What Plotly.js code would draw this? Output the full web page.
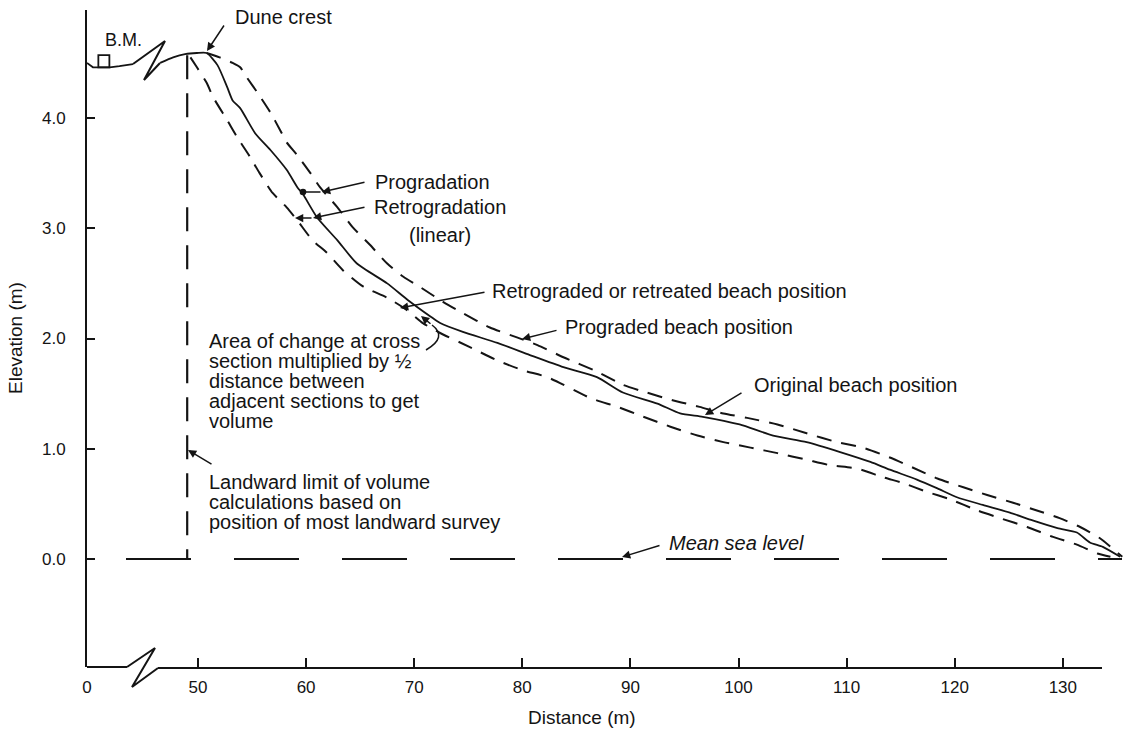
<!DOCTYPE html>
<html>
<head>
<meta charset="utf-8">
<script src="https://cdn.plot.ly/plotly-3.0.1.min.js"></script>
<style>html,body{margin:0;padding:0;background:#fff;}#chart{width:1131px;height:737px;}</style>
</head>
<body>
<div id="chart"></div>
<script>
// ---------- data (distance in m, elevation in m) ----------
// landward part of the survey (left of the axis break), with bench mark
const distLandward = [0, 0.55, 1.2, 2.1, 3.0, 4.25];
const elevLandward = [4.50, 4.46, 4.46, 4.46, 4.47, 4.49];

// original beach position (solid)
const distOriginal = [46.5,47.7,48.8,49.9,50.8,51.8,52.7,53.2,53.9,55.3,56.7,58.2,59.2,59.7,61.0,62.9,64.7,67.5,69.4,71.5,72.4,74.5,77.7,80.7,83.8,86.9,89.3,92.5,94.6,96.7,100.1,103.2,106.3,109.4,112.2,114.0,116.5,118.4,120.2,122.6,125.1,127.2,129.5,131.3,132.5,133.7,135.3];
const elevOriginal = [4.50,4.55,4.58,4.59,4.59,4.48,4.28,4.16,4.09,3.86,3.71,3.53,3.37,3.31,3.10,2.89,2.68,2.50,2.35,2.20,2.14,2.06,1.96,1.85,1.74,1.65,1.51,1.41,1.32,1.29,1.22,1.12,1.06,0.97,0.88,0.81,0.72,0.64,0.56,0.49,0.42,0.35,0.28,0.24,0.15,0.11,0.02];

// prograded beach position (dashed, seaward)
const distPrograded = [50.8,52.0,53.2,53.9,54.5,55.5,56.7,57.6,58.2,59.2,60.4,61.3,62.9,64.3,65.9,67.5,69.0,70.5,72.7,74.5,77.0,79.5,81.4,83.8,86.9,89.3,91.5,93.9,96.4,98.6,100.8,103.6,106.3,109.1,111.5,114.0,116.1,118.4,120.8,123.0,125.4,127.6,129.7,131.6,133.4,135.5];
const elevPrograded = [4.59,4.55,4.50,4.46,4.37,4.23,4.05,3.89,3.78,3.66,3.50,3.37,3.19,3.01,2.85,2.68,2.56,2.47,2.33,2.23,2.10,2.01,1.94,1.83,1.70,1.58,1.51,1.44,1.38,1.32,1.28,1.22,1.14,1.06,1.01,0.92,0.83,0.73,0.65,0.58,0.51,0.44,0.37,0.29,0.19,0.02];

// retrograded beach position (dashed, landward)
const distRetrograded = [49.3,49.9,50.8,51.4,52.7,53.6,54.8,55.7,56.9,58.2,59.2,60.6,61.9,63.4,65.3,67.5,69.3,70.8,72.4,75.2,77.7,80.1,82.3,86.3,88.8,91.2,93.7,96.2,98.6,101.1,103.6,106.3,108.5,111.0,113.4,115.2,117.4,119.6,122.1,124.2,126.7,129.1,131.3,133.2,134.4];
const elevRetrograded = [4.55,4.46,4.32,4.19,3.98,3.83,3.65,3.50,3.32,3.19,3.07,2.89,2.78,2.62,2.47,2.37,2.26,2.14,2.05,1.92,1.80,1.71,1.65,1.46,1.38,1.29,1.20,1.12,1.06,1.01,0.96,0.90,0.85,0.82,0.74,0.69,0.61,0.54,0.44,0.37,0.29,0.20,0.13,0.05,0.02];

// landward limit of volume calculations
const landwardLimitDist = [49.0, 49.0];
const landwardLimitElev = [4.57, 0.0];
const meanSeaLevel = 0.0;
const benchMark = {d0: 1.05, d1: 2.07, e0: 4.46, e1: 4.57};

// ticks
const xTickVals = [50, 60, 70, 80, 90, 100, 110, 120, 130];
const xTickText = ['50', '60', '70', '80', '90', '100', '110', '120', '130'];
const yTickVals = [0, 1, 2, 3, 4];
const yTickText = ['0.0', '1.0', '2.0', '3.0', '4.0'];

// ---------- layout helpers (pixel -> paper) ----------
const W = 1131, H = 737, ML = 87, MR = 6, MT = 10, MB = 70;
const PW = W - ML - MR, PH = H - MT - MB;
const P = px => (px - ML) / PW;
const Q = py => (H - MB - py) / PH;
const INK = '#141414';
const FS = 20;
const FONT = 'Liberation Sans, Arial, Helvetica, sans-serif';

const traces = [
  {x: distLandward, y: elevLandward, xaxis: 'x', yaxis: 'y', mode: 'lines',
   line: {color: INK, width: 1.8}, hoverinfo: 'skip'},
  {x: distOriginal, y: elevOriginal, xaxis: 'x2', yaxis: 'y', mode: 'lines',
   line: {color: INK, width: 1.8, shape: 'spline', smoothing: 0.6}, name: 'Original'},
  {x: distPrograded, y: elevPrograded, xaxis: 'x2', yaxis: 'y', mode: 'lines',
   line: {color: INK, width: 2, dash: '15px,10px', shape: 'spline', smoothing: 0.6}, name: 'Prograded'},
  {x: distRetrograded, y: elevRetrograded, xaxis: 'x2', yaxis: 'y', mode: 'lines',
   line: {color: INK, width: 2, dash: '15px,10px', shape: 'spline', smoothing: 0.6}, name: 'Retrograded'},
  {x: landwardLimitDist, y: landwardLimitElev, xaxis: 'x2', yaxis: 'y', mode: 'lines',
   line: {color: INK, width: 2.2, dash: '24px,14px'}, name: 'Landward limit'}
];

const shapes = [
  // x-axis baseline with break symbol
  {type: 'line', xref: 'paper', yref: 'paper', x0: P(87), x1: P(127), y0: Q(667), y1: Q(667), line: {color: INK, width: 2}},
  {type: 'path', xref: 'paper', yref: 'paper',
   path: `M ${P(127)},${Q(667)} L ${P(155)},${Q(648)} L ${P(132)},${Q(687)} L ${P(158)},${Q(668)}`,
   line: {color: INK, width: 2}},
  {type: 'line', xref: 'paper', yref: 'paper', x0: P(158), x1: P(1102), y0: Q(668), y1: Q(668), line: {color: INK, width: 2}},
  // break symbol on the profile
  {type: 'path', xref: 'paper', yref: 'paper',
   path: `M ${P(133)},${Q(64)} L ${P(165)},${Q(41)} L ${P(144)},${Q(80)} L ${P(160)},${Q(63)}`,
   line: {color: INK, width: 2}},
  // mean sea level
  {type: 'line', xref: 'paper', yref: 'y', x0: P(126), x1: P(1122), y0: meanSeaLevel, y1: meanSeaLevel,
   line: {color: INK, width: 2, dash: '65px,43px'}},
  // bench mark
  {type: 'rect', xref: 'x', yref: 'y', x0: benchMark.d0, x1: benchMark.d1, y0: benchMark.e0, y1: benchMark.e1,
   line: {color: INK, width: 1.8}, fillcolor: 'rgba(0,0,0,0)'},
  // curved leader for "Area of change"
  {type: 'path', xref: 'paper', yref: 'paper',
   path: `M ${P(426)},${Q(350)} Q ${P(448)},${Q(337)} ${P(432)},${Q(325)}`,
   line: {color: INK, width: 1.5}}
];

function txt(t, px, py, o) {
  return Object.assign({text: t, xref: 'paper', yref: 'paper', x: P(px), y: Q(py),
    xanchor: 'left', yanchor: 'middle', showarrow: false, font: {size: FS, color: INK, family: FONT}}, o || {});
}
function arr(tx, ty, sx, sy, head) {
  return {text: '', xref: 'paper', yref: 'paper', x: P(tx), y: Q(ty), ax: sx - tx, ay: sy - ty,
    showarrow: true, arrowhead: head === undefined ? 2 : head, arrowsize: 1.1, arrowwidth: 1.5,
    arrowcolor: INK, standoff: 0, startstandoff: 0};
}

const annotations = [
  txt('B.M.', 123, 40, {xanchor: 'center', font: {size: 18, color: INK, family: FONT}}),
  txt('Dune crest', 233, 17),
  arr(207, 51, 225, 24),
  txt('Progradation', 373, 182),
  arr(322, 192, 366, 182),
  arr(303, 192, 322, 192, 6),
  txt('Retrogradation', 372, 207),
  arr(313, 218, 366, 207),
  arr(295, 218, 313, 218),
  txt('(linear)', 407, 235),
  txt('Retrograded or retreated beach position', 490, 291),
  arr(400, 308, 486, 292),
  txt('Prograded beach position', 563, 327),
  arr(522, 339, 558, 330),
  txt('Original beach position', 752, 385),
  arr(705, 415, 743, 392),
  txt('Area of change at cross', 207, 341),
  txt('section multiplied by \u00bd', 207, 361),
  txt('distance between', 207, 381),
  txt('adjacent sections to get', 207, 401),
  txt('volume', 207, 421),
  arr(421, 316, 432, 325),
  txt('Landward limit of volume', 207, 482),
  txt('calculations based on', 207, 502),
  txt('position of most landward survey', 207, 522),
  arr(188, 450, 213, 465),
  txt('<i>Mean sea level</i>', 667, 543),
  arr(622, 557, 661, 545),
  txt('Elevation (m)', 15, 338, {xanchor: 'center', textangle: -90, font: {size: 19, color: INK, family: FONT}}),
  txt('Distance (m)', 582, 717, {xanchor: 'center', font: {size: 19, color: INK, family: FONT}})
];

const layout = {
  width: W, height: H,
  margin: {l: ML, r: MR, t: MT, b: MB, pad: 0},
  paper_bgcolor: '#fff', plot_bgcolor: '#fff',
  showlegend: false,
  font: {family: FONT, color: INK, size: 17},
  xaxis: {domain: [0, 46 / PW], range: [0, 46 / 10.81], anchor: 'y',
    tickvals: [0], ticktext: ['0'], ticks: '', showgrid: false, zeroline: false, showline: false,
    tickfont: {size: 17, color: INK}, ticklabelstandoff: 8, fixedrange: true},
  xaxis2: {domain: [71 / PW, 1], range: [46.3, 135.75], anchor: 'y',
    tickvals: xTickVals, ticktext: xTickText, ticks: 'inside', ticklen: 9, tickwidth: 2, tickcolor: INK,
    showgrid: false, zeroline: false, showline: false,
    tickfont: {size: 17, color: INK}, ticklabelstandoff: 8, fixedrange: true},
  yaxis: {domain: [0, 1], range: [-0.98, 4.98], anchor: 'x',
    tickvals: yTickVals, ticktext: yTickText, ticks: 'inside', ticklen: 8, tickwidth: 2, tickcolor: INK,
    showline: true, linewidth: 2, linecolor: INK, showgrid: false, zeroline: false,
    tickfont: {size: 17, color: INK}, ticklabelstandoff: 16, fixedrange: true},
  shapes: shapes,
  annotations: annotations
};

Plotly.newPlot('chart', traces, layout, {staticPlot: true, displayModeBar: false});
</script>
</body>
</html>
